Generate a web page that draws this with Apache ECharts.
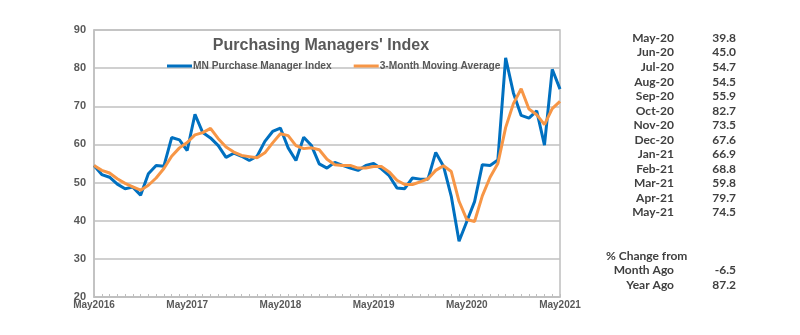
<!DOCTYPE html>
<html>
<head>
<meta charset="utf-8">
<script src="https://cdn.jsdelivr.net/npm/echarts@6/dist/echarts.min.js"></script>
<style>
  html, body { margin: 0; padding: 0; background: #fff; }
  #chart { width: 800px; height: 335px; }
</style>
</head>
<body>
<div id="chart"></div>
<script>
// Monthly Minnesota PMI, May 2016 through May 2021
const startYear = 2016;
const startMonth = 4; // May (0-based)
const monthCount = 61;

const pmiIndex = [
  54.5, 52.1, 51.4, 49.6, 48.4, 48.8, 46.7, 52.3, 54.5, 54.3,
  61.8, 61.2, 58.4, 67.9, 63.1, 61.7, 59.7, 56.6, 57.7, 56.9,
  55.8, 56.9, 60.8, 63.4, 64.3, 59.1, 55.8, 61.9, 59.7, 54.9,
  53.8, 55.3, 54.5, 53.8, 53.2, 54.5, 55.0, 53.6, 51.8, 48.6,
  48.4, 51.2, 50.9, 50.9, 57.9, 54.3, 46.4, 34.6, 39.8, 45.0,
  54.7, 54.5, 55.9, 82.7, 73.5, 67.6, 66.9, 68.8, 59.8, 79.7,
  74.5
];

const movingAverage = [
  54.5, 53.2, 52.5, 51.0, 49.8, 48.9, 48.0, 49.3, 51.2, 53.7,
  56.9, 59.1, 60.5, 62.5, 63.1, 64.2, 61.5, 59.3, 58.0, 57.1,
  56.8, 56.5, 57.8, 60.4, 62.8, 62.3, 59.7, 58.9, 59.1, 58.6,
  56.1, 54.7, 54.5, 54.5, 53.8, 53.8, 54.2, 54.2, 52.8, 50.6,
  49.5, 49.5, 50.2, 51.0, 53.2, 54.4, 52.9, 45.1, 40.3, 39.8,
  46.5, 51.4, 55.0, 64.4, 70.7, 74.6, 69.3, 67.8, 65.2, 69.4,
  71.3
];

const tableMonths = [
  'May-20', 'Jun-20', 'Jul-20', 'Aug-20', 'Sep-20', 'Oct-20', 'Nov-20',
  'Dec-20', 'Jan-21', 'Feb-21', 'Mar-21', 'Apr-21', 'May-21'
];

const yTicks = { min: 20, max: 90, step: 10 };

const monthNames = ['Jan','Feb','Mar','Apr','May','Jun','Jul','Aug','Sep','Oct','Nov','Dec'];
const categories = [];
for (let k = 0; k < monthCount; k++) {
  const m = (startMonth + k) % 12;
  const y = startYear + Math.floor((startMonth + k) / 12);
  categories.push(monthNames[m] + y);
}

// Side table: latest 13 months and percentage changes
const tableValues = pmiIndex.slice(-tableMonths.length);
const latest = pmiIndex[pmiIndex.length - 1];
const monthAgo = pmiIndex[pmiIndex.length - 2];
const yearAgo = pmiIndex[pmiIndex.length - 13];
const changeRows = [
  ['Month Ago', (latest - monthAgo) / monthAgo * 100],
  ['Year Ago', (latest - yearAgo) / yearAgo * 100]
];

const tableFont = { fontFamily: 'Lato', fontSize: 12, fontWeight: 'bold', fill: '#404040' };
const graphics = [];
const rowTop = 38, rowStep = 14.55, labelRight = 674, valueRight = 736;
tableMonths.forEach((m, k) => {
  graphics.push({ type: 'text', x: labelRight, y: rowTop + k * rowStep,
    style: Object.assign({ text: m, textAlign: 'right', textVerticalAlign: 'middle' }, tableFont) });
  graphics.push({ type: 'text', x: valueRight, y: rowTop + k * rowStep,
    style: Object.assign({ text: tableValues[k].toFixed(1), textAlign: 'right', textVerticalAlign: 'middle' }, tableFont) });
});
graphics.push({ type: 'text', x: 606, y: 256,
  style: Object.assign({ text: '% Change from', textAlign: 'left', textVerticalAlign: 'middle' }, tableFont) });
changeRows.forEach((r, k) => {
  graphics.push({ type: 'text', x: labelRight, y: 270.5 + k * rowStep,
    style: Object.assign({ text: r[0], textAlign: 'right', textVerticalAlign: 'middle' }, tableFont) });
  graphics.push({ type: 'text', x: valueRight, y: 270.5 + k * rowStep,
    style: Object.assign({ text: r[1].toFixed(1), textAlign: 'right', textVerticalAlign: 'middle' }, tableFont) });
});

const chart = echarts.init(document.getElementById('chart'), null, { renderer: 'canvas' });
chart.setOption({
  backgroundColor: '#fff',
  animation: false,
  title: {
    text: "Purchasing Managers' Index",
    left: 316, top: 33, textAlign: 'center',
    textStyle: { fontFamily: 'Liberation Sans', fontSize: 16, fontWeight: 'bold', color: '#595959' }
  },
  legend: {
    left: 162, top: 56,
    icon: 'rect',
    itemWidth: 25, itemHeight: 3, itemGap: 22,
    textStyle: { fontFamily: 'Liberation Sans', fontSize: 10.2, fontWeight: 'bold', color: '#595959', padding: [0, 0, 0, -4] },
    data: ['MN Purchase Manager Index', '3-Month Moving Average']
  },
  grid: {
    left: 94, right: 240, top: 30, bottom: 38,
    show: true, borderColor: '#bfbfbf', borderWidth: 1.5
  },
  xAxis: {
    type: 'category',
    data: categories,
    boundaryGap: false,
    axisLine: { lineStyle: { color: '#bfbfbf', width: 1.5 } },
    axisTick: { show: true, inside: true, interval: 0, length: 3, lineStyle: { color: '#bfbfbf' } },
    axisLabel: {
      interval: 11, margin: 3,
      fontFamily: 'Liberation Sans', fontSize: 10, fontWeight: 'bold', color: '#595959'
    },
    splitLine: { show: false }
  },
  yAxis: {
    type: 'value',
    min: yTicks.min, max: yTicks.max, interval: yTicks.step,
    axisLine: { show: true, lineStyle: { color: '#bfbfbf', width: 1.5 } },
    axisTick: { show: false },
    axisLabel: { margin: 8, fontFamily: 'Liberation Sans', fontSize: 11, fontWeight: 'bold', color: '#595959' },
    splitLine: { lineStyle: { color: '#c0c0c0', width: 1.5 } }
  },
  series: [
    {
      name: 'MN Purchase Manager Index', type: 'line', data: pmiIndex,
      symbol: 'none', z: 3,
      lineStyle: { color: '#0070C0', width: 3 }, itemStyle: { color: '#0070C0' }
    },
    {
      name: '3-Month Moving Average', type: 'line', data: movingAverage,
      symbol: 'none', z: 4,
      lineStyle: { color: '#F79646', width: 3 }, itemStyle: { color: '#F79646' }
    }
  ],
  graphic: graphics
});
</script>
</body>
</html>
